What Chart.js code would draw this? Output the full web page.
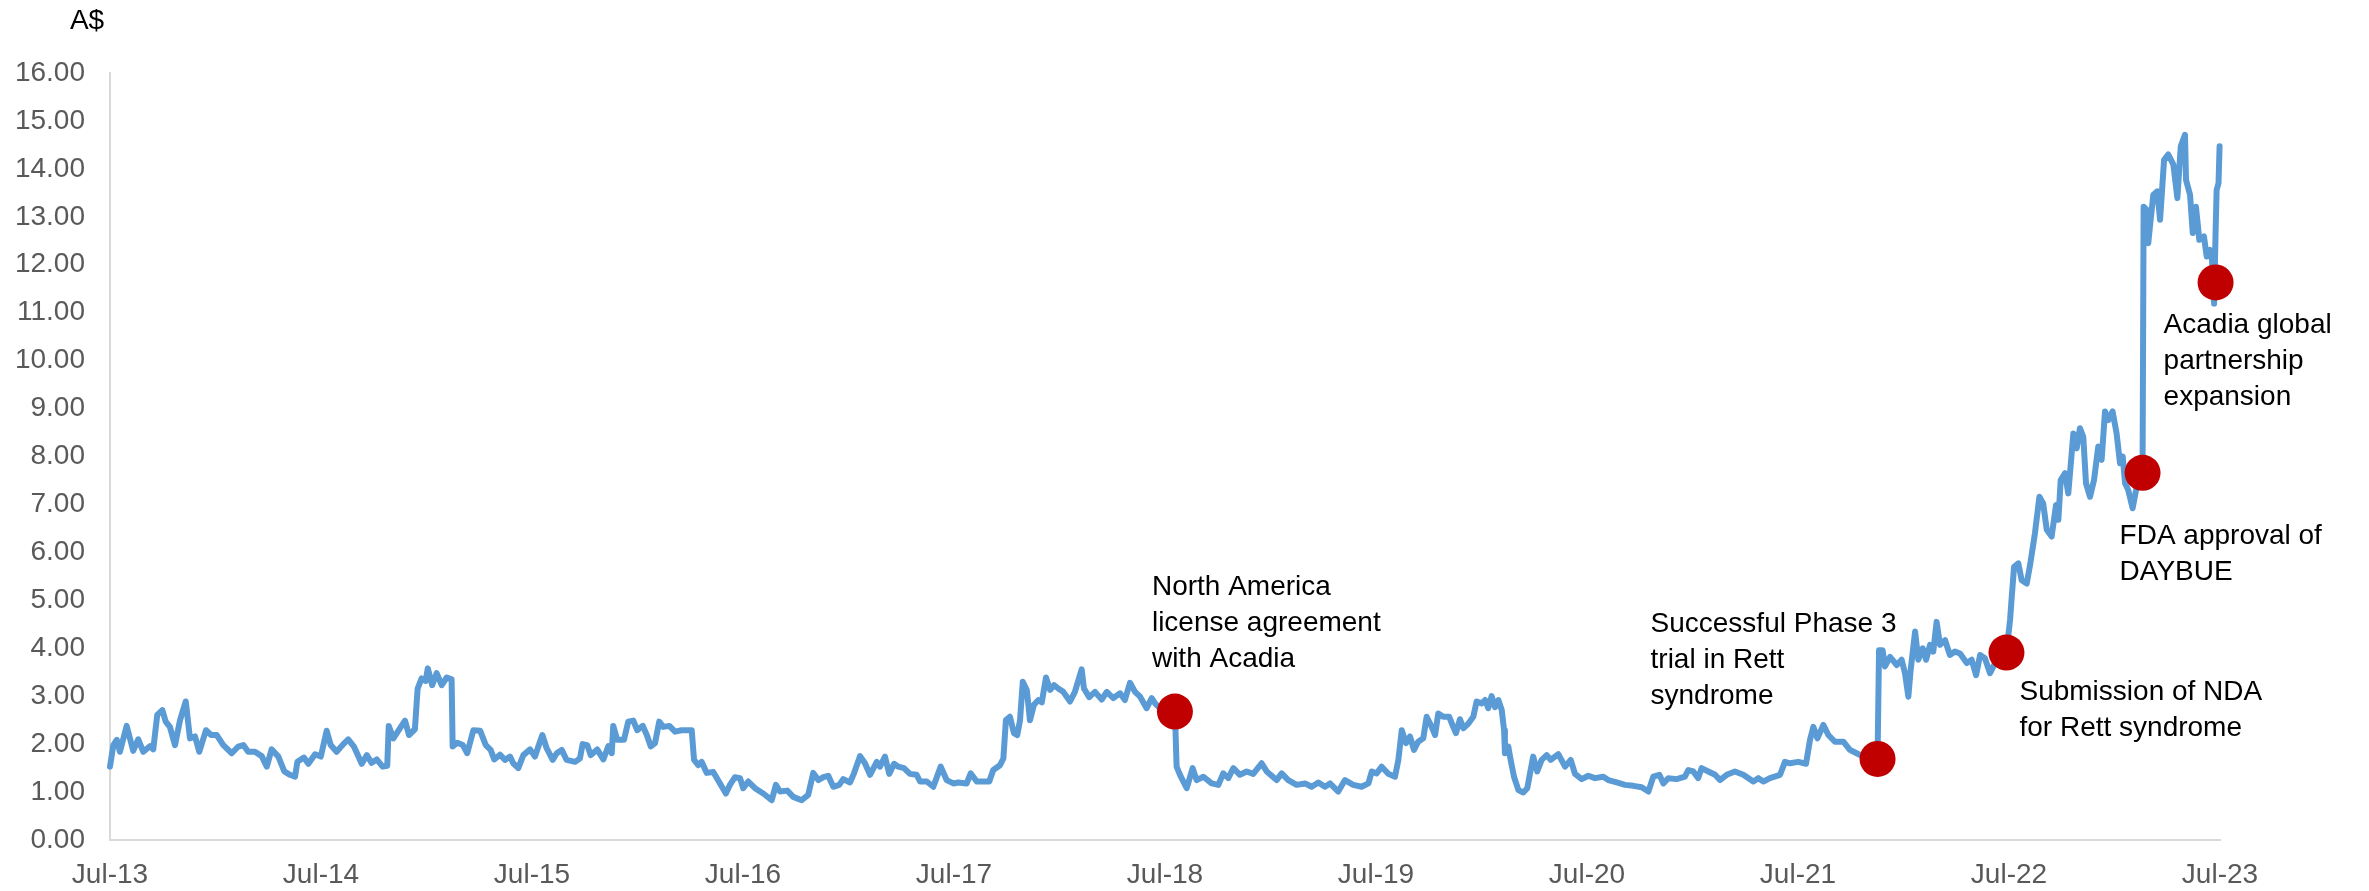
<!DOCTYPE html>
<html>
<head>
<meta charset="utf-8">
<script src="https://cdn.jsdelivr.net/npm/chart.js@4.4.0/dist/chart.umd.min.js"></script>
<style>
  html, body { margin: 0; padding: 0; background: #fff; }
  #wrap { width: 2369px; height: 891px; position: relative; }
</style>
</head>
<body>
<div id="wrap"><canvas id="priceChart"></canvas></div>
<script>
    // share price, A$ - x is years after Jul-13
    const yearsFromJul13 = [
        0.000, 0.016, 0.032, 0.047, 0.079, 0.110, 0.134, 0.158,
        0.190, 0.205, 0.224, 0.248, 0.264, 0.284, 0.308, 0.332,
        0.359, 0.379, 0.403, 0.423, 0.455, 0.479, 0.506, 0.537,
        0.577, 0.608, 0.632, 0.655, 0.687, 0.719, 0.743, 0.766,
        0.798, 0.826, 0.853, 0.877, 0.888, 0.919, 0.940, 0.972,
        0.999, 1.027, 1.046, 1.074, 1.106, 1.129, 1.156, 1.193,
        1.217, 1.240, 1.264, 1.292, 1.314, 1.321, 1.343, 1.374,
        1.398, 1.417, 1.445, 1.458, 1.477, 1.496, 1.506, 1.527,
        1.548, 1.572, 1.596, 1.619, 1.624, 1.646, 1.672, 1.693,
        1.722, 1.754, 1.781, 1.804, 1.821, 1.848, 1.872, 1.896,
        1.911, 1.935, 1.959, 1.991, 2.014, 2.030, 2.049, 2.070,
        2.098, 2.117, 2.141, 2.164, 2.204, 2.227, 2.240, 2.262,
        2.278, 2.309, 2.338, 2.362, 2.378, 2.385, 2.404, 2.436,
        2.456, 2.480, 2.499, 2.525, 2.544, 2.563, 2.583, 2.603,
        2.622, 2.651, 2.678, 2.709, 2.757, 2.768, 2.788, 2.804,
        2.828, 2.859, 2.891, 2.919, 2.938, 2.962, 2.986, 3.001,
        3.025, 3.057, 3.096, 3.136, 3.156, 3.175, 3.210, 3.238,
        3.278, 3.309, 3.333, 3.357, 3.381, 3.404, 3.428, 3.456,
        3.475, 3.507, 3.526, 3.555, 3.578, 3.602, 3.634, 3.649,
        3.673, 3.693, 3.716, 3.736, 3.763, 3.791, 3.823, 3.839,
        3.871, 3.902, 3.937, 3.965, 3.997, 4.020, 4.060, 4.079,
        4.108, 4.139, 4.167, 4.186, 4.218, 4.234, 4.246, 4.265,
        4.284, 4.300, 4.313, 4.326, 4.345, 4.360, 4.379, 4.400,
        4.416, 4.436, 4.455, 4.474, 4.494, 4.518, 4.550, 4.573,
        4.605, 4.616, 4.641, 4.668, 4.700, 4.724, 4.755, 4.787,
        4.810, 4.834, 4.858, 4.882, 4.913, 4.937, 4.953, 4.992,
        5.024, 5.047, 5.055, 5.071, 5.103, 5.131, 5.150, 5.182,
        5.221, 5.253, 5.276, 5.300, 5.324, 5.355, 5.387, 5.418,
        5.458, 5.482, 5.529, 5.553, 5.584, 5.624, 5.664, 5.695,
        5.727, 5.758, 5.782, 5.821, 5.853, 5.892, 5.932, 5.964,
        5.980, 6.003, 6.027, 6.058, 6.090, 6.106, 6.122, 6.142,
        6.161, 6.180, 6.200, 6.224, 6.240, 6.264, 6.280, 6.295,
        6.319, 6.347, 6.366, 6.379, 6.398, 6.414, 6.438, 6.461,
        6.477, 6.501, 6.517, 6.532, 6.548, 6.564, 6.580, 6.596,
        6.607, 6.611, 6.627, 6.638, 6.654, 6.675, 6.698, 6.717,
        6.730, 6.745, 6.764, 6.785, 6.809, 6.828, 6.864, 6.896,
        6.923, 6.943, 6.975, 7.006, 7.038, 7.077, 7.101, 7.141,
        7.180, 7.220, 7.259, 7.291, 7.314, 7.343, 7.362, 7.385,
        7.425, 7.464, 7.480, 7.504, 7.527, 7.543, 7.575, 7.607,
        7.630, 7.662, 7.701, 7.741, 7.788, 7.812, 7.836, 7.867,
        7.915, 7.938, 7.962, 8.001, 8.038, 8.057, 8.073, 8.092,
        8.120, 8.144, 8.175, 8.215, 8.246, 8.278, 8.310, 8.341,
        8.377, 8.384, 8.401, 8.412, 8.436, 8.468, 8.491, 8.507,
        8.523, 8.534, 8.555, 8.570, 8.591, 8.607, 8.626, 8.641,
        8.657, 8.673, 8.697, 8.720, 8.744, 8.768, 8.800, 8.823,
        8.844, 8.863, 8.886, 8.910, 8.934, 8.957, 8.988, 9.005,
        9.012, 9.024, 9.044, 9.060, 9.084, 9.100, 9.123, 9.144,
        9.162, 9.179, 9.202, 9.223, 9.234, 9.245, 9.265, 9.281,
        9.305, 9.321, 9.336, 9.352, 9.365, 9.384, 9.403, 9.423,
        9.439, 9.455, 9.471, 9.491, 9.510, 9.526, 9.539, 9.550,
        9.565, 9.586, 9.605, 9.621, 9.633, 9.638, 9.654, 9.660,
        9.668, 9.684, 9.703, 9.716, 9.735, 9.755, 9.779, 9.798,
        9.814, 9.834, 9.839, 9.858, 9.871, 9.886, 9.902, 9.924,
        9.937, 9.953, 9.962, 9.972, 9.979, 9.984, 9.993, 9.998
    ];

    const prices = [
        1.53, 1.98, 2.09, 1.84, 2.38, 1.86, 2.10, 1.84,
        1.96, 1.89, 2.61, 2.71, 2.47, 2.36, 1.98, 2.50,
        2.89, 2.12, 2.16, 1.84, 2.29, 2.19, 2.19, 1.98,
        1.81, 1.95, 1.98, 1.84, 1.84, 1.75, 1.53, 1.89,
        1.74, 1.43, 1.36, 1.32, 1.63, 1.72, 1.59, 1.79,
        1.74, 2.28, 1.98, 1.84, 2.00, 2.10, 1.95, 1.59,
        1.77, 1.61, 1.68, 1.53, 1.55, 2.38, 2.12, 2.33,
        2.49, 2.19, 2.31, 3.16, 3.37, 3.32, 3.58, 3.23,
        3.48, 3.23, 3.39, 3.35, 1.95, 2.03, 1.98, 1.81,
        2.29, 2.28, 1.98, 1.88, 1.68, 1.78, 1.67, 1.74,
        1.60, 1.50, 1.77, 1.89, 1.74, 1.95, 2.19, 1.91,
        1.67, 1.81, 1.88, 1.67, 1.63, 1.70, 2.00, 1.98,
        1.77, 1.89, 1.68, 1.96, 1.81, 2.38, 2.09, 2.09,
        2.47, 2.49, 2.29, 2.38, 2.19, 1.95, 2.02, 2.47,
        2.36, 2.38, 2.26, 2.29, 2.29, 1.67, 1.56, 1.63,
        1.40, 1.42, 1.18, 0.97, 1.15, 1.31, 1.29, 1.08,
        1.22, 1.08, 0.97, 0.83, 1.15, 1.01, 1.03, 0.90,
        0.83, 0.94, 1.40, 1.25, 1.31, 1.34, 1.11, 1.15,
        1.27, 1.20, 1.39, 1.75, 1.60, 1.36, 1.63, 1.53,
        1.74, 1.38, 1.59, 1.53, 1.50, 1.38, 1.36, 1.22,
        1.22, 1.11, 1.53, 1.25, 1.18, 1.20, 1.18, 1.39,
        1.22, 1.22, 1.22, 1.46, 1.56, 1.70, 2.50, 2.57,
        2.23, 2.19, 2.50, 3.30, 3.13, 2.50, 2.82, 2.92,
        2.87, 3.39, 3.13, 3.23, 3.16, 3.09, 2.89, 3.09,
        3.56, 3.16, 2.98, 3.09, 2.93, 3.09, 2.96, 3.06,
        2.92, 3.28, 3.09, 2.99, 2.75, 2.96, 2.85, 2.68,
        2.75, 2.68, 1.53, 1.36, 1.08, 1.50, 1.25, 1.32,
        1.18, 1.15, 1.39, 1.29, 1.50, 1.36, 1.43, 1.38,
        1.60, 1.43, 1.25, 1.39, 1.25, 1.15, 1.18, 1.11,
        1.20, 1.11, 1.18, 1.01, 1.25, 1.15, 1.11, 1.18,
        1.43, 1.39, 1.53, 1.38, 1.32, 1.67, 2.29, 2.02,
        2.16, 1.88, 2.05, 2.12, 2.57, 2.36, 2.19, 2.64,
        2.57, 2.57, 2.36, 2.23, 2.52, 2.33, 2.43, 2.57,
        2.89, 2.85, 2.92, 2.75, 3.00, 2.77, 2.92, 2.71,
        2.29, 1.81, 1.95, 1.67, 1.32, 1.04, 0.99, 1.08,
        1.39, 1.74, 1.43, 1.67, 1.77, 1.67, 1.79, 1.53,
        1.67, 1.38, 1.27, 1.34, 1.29, 1.32, 1.25, 1.20,
        1.15, 1.13, 1.10, 1.01, 1.32, 1.36, 1.18, 1.29,
        1.27, 1.32, 1.46, 1.43, 1.29, 1.50, 1.43, 1.36,
        1.25, 1.36, 1.43, 1.36, 1.22, 1.29, 1.22, 1.29,
        1.36, 1.63, 1.60, 1.63, 1.59, 2.09, 2.36, 2.12,
        2.40, 2.19, 2.05, 2.05, 1.88, 1.81, 1.74, 1.72,
        1.69, 3.96, 3.96, 3.62, 3.82, 3.65, 3.76, 3.48,
        2.99, 3.55, 4.35, 3.76, 4.00, 3.76, 4.07, 3.93,
        4.55, 4.07, 4.17, 3.86, 3.93, 3.89, 3.69, 3.76,
        3.44, 3.86, 3.79, 3.48, 3.69, 3.75, 3.91, 4.59,
        5.01, 5.70, 5.77, 5.42, 5.35, 5.74, 6.40, 7.16,
        7.02, 6.47, 6.33, 6.99, 6.68, 7.51, 7.65, 7.23,
        8.48, 8.17, 8.59, 8.41, 7.44, 7.16, 7.51, 8.21,
        7.93, 8.94, 8.76, 8.94, 8.48, 7.86, 8.00, 7.44,
        7.30, 6.92, 7.37, 7.44, 7.66, 13.21, 13.14, 12.45,
        12.80, 13.46, 13.53, 12.94, 14.19, 14.30, 14.09, 13.39,
        14.47, 14.71, 13.77, 13.46, 12.66, 13.21, 12.52, 12.59,
        12.17, 12.31, 12.10, 11.19, 12.66, 13.56, 13.70, 14.47
    ];

    // milestones marked with red dots
    const eventYears = [5.047, 8.377, 8.988, 9.633, 9.979];
    const eventPrices = [2.68, 1.69, 3.91, 7.66, 11.63];
    const eventLabels = [
        ['North America', 'license agreement', 'with Acadia'],
        ['Successful Phase 3', 'trial in Rett', 'syndrome'],
        ['Submission of NDA', 'for Rett syndrome'],
        ['FDA approval of', 'DAYBUE'],
        ['Acadia global', 'partnership', 'expansion']
    ];
    const firstTickYear = 13;

    // label placement relative to each dot (px)
    const labelOffsets = [[-23, -124], [-227, -135], [13, 40], [-23, 63], [-52, 43]];
    const lineGap = 36;
    const fontFamily = "'Liberation Sans', Arial, sans-serif";

    Chart.defaults.font.family = fontFamily;

    const eventLabelPlugin = {
        id: 'eventLabels',
        afterDatasetsDraw(chart) {
            const { ctx, chartArea } = chart;
            const x = chart.scales.x;
            const y = chart.scales.y;
            ctx.save();
            ctx.fillStyle = '#000000';
            ctx.font = '28px ' + fontFamily;
            ctx.textBaseline = 'middle';
            ctx.textAlign = 'left';
            eventLabels.forEach((lines, i) => {
                const px = x.getPixelForValue(eventYears[i]);
                const py = y.getPixelForValue(eventPrices[i]);
                const [dx, dy] = labelOffsets[i];
                lines.forEach((line, j) => {
                    ctx.fillText(line, px + dx, py + dy + j * lineGap);
                });
            });
            ctx.textAlign = 'center';
            ctx.fillText('A$', chartArea.left - 23, chartArea.top - 52);
            ctx.restore();
        }
    };

    const ctx = document.getElementById('priceChart').getContext('2d');
    new Chart(ctx, {
        type: 'line',
        data: {
            datasets: [
                {
                    type: 'scatter',
                    data: eventYears.map((t, i) => ({ x: t, y: eventPrices[i] })),
                    backgroundColor: '#C00000',
                    borderWidth: 0,
                    pointRadius: 18,
                    showLine: false,
                    clip: false,
                    order: 0
                },
                {
                    data: yearsFromJul13.map((t, i) => ({ x: t, y: prices[i] })),
                    borderColor: '#5B9BD5',
                    borderWidth: 6,
                    pointRadius: 0,
                    tension: 0,
                    borderJoinStyle: 'round',
                    borderCapStyle: 'round',
                    fill: false,
                    clip: 4,
                    order: 1
                }
            ]
        },
        options: {
            responsive: true,
            maintainAspectRatio: false,
            animation: false,
            events: [],
            layout: {
                padding: { top: 73, right: 149, bottom: 0, left: 0 }
            },
            plugins: {
                legend: { display: false },
                tooltip: { enabled: false }
            },
            scales: {
                x: {
                    type: 'linear',
                    min: 0,
                    max: 10,
                    grid: { display: false, drawTicks: false },
                    border: { color: '#D9D9D9', width: 2 },
                    ticks: {
                        stepSize: 1,
                        padding: 18,
                        color: '#595959',
                        font: { size: 28 },
                        maxRotation: 0,
                        callback: v => 'Jul-' + (firstTickYear + v)
                    },
                    afterFit: s => { s.height = 51; }
                },
                y: {
                    min: 0,
                    max: 16,
                    grid: { display: false, drawTicks: false },
                    border: { color: '#D9D9D9', width: 2 },
                    ticks: {
                        stepSize: 1,
                        padding: 25,
                        color: '#595959',
                        font: { size: 28 },
                        callback: v => v.toFixed(2)
                    },
                    afterFit: s => { s.width = 110; }
                }
            }
        },
        plugins: [eventLabelPlugin]
    });
</script>
</body>
</html>
